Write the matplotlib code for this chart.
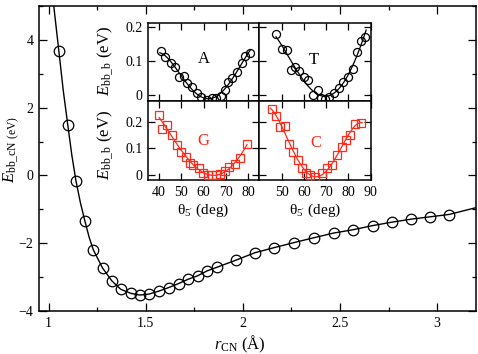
import matplotlib

matplotlib.use("Agg")
import matplotlib.pyplot as plt  # noqa: E402
import numpy as np  # noqa: E402
from matplotlib.ticker import MultipleLocator  # noqa: E402

plt.rcParams["font.family"] = ["Liberation Serif", "DejaVu Serif"]
plt.rcParams["mathtext.fontset"] = "custom"
plt.rcParams["mathtext.rm"] = "Liberation Serif"
plt.rcParams["mathtext.it"] = "Liberation Serif:italic"

RED = "#ff2a1a"

# main curve: backbone C-N energy vs distance
r_cn = [1.052, 1.098, 1.14, 1.186, 1.23, 1.277, 1.325, 1.371, 1.423, 1.469,
        1.517, 1.569, 1.617, 1.669, 1.715, 1.767, 1.814, 1.866, 1.964, 2.062,
        2.161, 2.264, 2.364, 2.467, 2.569, 2.668, 2.766, 2.866, 2.965, 3.063]
e_cn = [3.68, 1.5, -0.15, -1.34, -2.2, -2.73, -3.11, -3.36, -3.48, -3.53,
        -3.5, -3.41, -3.31, -3.19, -3.07, -2.96, -2.82, -2.71, -2.5, -2.28,
        -2.13, -1.98, -1.84, -1.70, -1.60, -1.48, -1.38, -1.29, -1.23, -1.16]
# fitted line
fit_r = [1.026, 1.052, 1.075, 1.098, 1.119, 1.14, 1.163, 1.186, 1.208,
         1.23, 1.277, 1.325, 1.371, 1.423, 1.469, 1.517, 1.569, 1.617,
         1.669, 1.715, 1.767, 1.814, 1.866, 1.964, 2.062, 2.161, 2.264,
         2.364, 2.467, 2.569, 2.668, 2.766, 2.866, 2.965, 3.063, 3.2]
fit_e = [5.0, 3.68, 2.5, 1.5, 0.6, -0.15, -0.8, -1.34, -1.82,
         -2.2, -2.73, -3.11, -3.36, -3.48, -3.53, -3.5, -3.41, -3.31,
         -3.19, -3.07, -2.96, -2.82, -2.71, -2.5, -2.28, -2.13, -1.98,
         -1.84, -1.70, -1.60, -1.48, -1.38, -1.29, -1.22, -1.15, -0.95]

# insets: torsion energy vs theta_5'
a_theta = [40.8, 42.7, 45.2, 47.1, 48.9, 51.1, 52.6, 54.8, 57.1, 59.0, 61.5,
           63.7, 65.5, 67.9, 69.6, 70.8, 72.9, 74.8, 77.1, 78.5, 80.8]
a_e = [0.130, 0.111, 0.093, 0.083, 0.052, 0.056, 0.036, 0.024, 0.007, -0.007,
       -0.015, -0.010, -0.010, -0.003, 0.013, 0.039, 0.049, 0.066, 0.095,
       0.115, 0.123]
t_theta = [47.7, 50.1, 52.3, 54.2, 56.1, 57.9, 59.9, 61.7, 64.0, 66.2, 67.7,
           69.6, 71.4, 73.7, 75.7, 77.7, 79.7, 82.0, 83.8, 85.7, 87.6]
t_e = [0.179, 0.134, 0.132, 0.072, 0.083, 0.069, 0.054, 0.044, 0.0, 0.013,
       -0.010, -0.013, -0.007, 0.005, 0.020, 0.039, 0.054, 0.076, 0.127,
       0.160, 0.171]
g_theta = [40.0, 41.5, 43.7, 46.0, 48.2, 50.0, 51.9, 53.8, 55.3, 57.8, 59.7,
           61.8, 63.7, 65.6, 67.4, 69.6, 71.6, 74.1, 76.3, 79.3]
g_e = [0.225, 0.171, 0.187, 0.150, 0.112, 0.087, 0.069, 0.046, 0.037, 0.025,
       0.009, 0.0, 0.0, 0.0, 0.004, 0.016, 0.029, 0.041, 0.063, 0.116]
c_theta = [45.5, 47.4, 49.5, 51.5, 53.4, 55.2, 57.5, 59.0, 61.0, 62.7, 65.0,
           68.0, 70.3, 72.5, 75.0, 77.0, 78.9, 80.8, 83.0, 85.6]
c_e = [0.246, 0.221, 0.181, 0.184, 0.116, 0.087, 0.056, 0.025, 0.006, 0.0,
       -0.006, 0.006, 0.025, 0.037, 0.075, 0.106, 0.131, 0.150, 0.191, 0.196]


def _ticks(ax, major=6, minor=3):
    ax.tick_params(which="both", direction="in", top=True, right=True,
                   labelsize=10, pad=4, width=0.9)
    ax.tick_params(which="major", length=major)
    ax.tick_params(which="minor", length=minor)
    for sp in ax.spines.values():
        sp.set_linewidth(1.1)


fig = plt.figure(figsize=(4.78, 3.54), dpi=100)
ax = fig.add_axes([0.0816, 0.1215, 0.9142, 0.8615])
ax.plot(fit_r, fit_e, color="black", lw=1.0, zorder=2)
ax.plot(r_cn, e_cn, "o", ms=7.6, mfc="none", mec="black", mew=0.9, zorder=3)
ax.set_xlim(0.95, 3.2)
ax.set_ylim(-4, 5)
ax.xaxis.set_major_locator(MultipleLocator(0.5))
ax.xaxis.set_minor_locator(MultipleLocator(0.25))
ax.yaxis.set_major_locator(MultipleLocator(2))
ax.yaxis.set_minor_locator(MultipleLocator(1))
ax.set_xticks([1, 1.5, 2, 2.5, 3])
ax.set_xticklabels(["1", "1.5", "2", "2.5", "3"])
_ticks(ax)
ax.set_xlabel(r"$r_{\mathrm{CN}}$ (Å)", fontsize=12)
ax.xaxis.set_label_coords(0.46, -0.075)
ax.set_ylabel(r"$E_{\mathrm{bb\_cN\ (eV)}}$", fontsize=12)
ax.yaxis.set_label_coords(-0.039, 0.53)

# inset grid
W = 0.2328
panels = {
    "A": ([0.3096, 0.7147, W, 0.2195], a_theta, a_e, "o", "black"),
    "T": ([0.5425, 0.7147, W, 0.2195], t_theta, t_e, "o", "black"),
    "G": ([0.3096, 0.4915, W, 0.2232], g_theta, g_e, "s", RED),
    "C": ([0.5425, 0.4915, W, 0.2232], c_theta, c_e, "s", RED),
}
line_span = {"A": (40.3, 81.0), "T": (47.5, 88.0),
             "G": (40.0, 79.5), "C": (45.0, 86.2)}
axes = {}
for name, (rect, th, en, mk, col) in panels.items():
    ia = fig.add_axes(rect)
    coef = np.polyfit(th, en, 4)
    xs = np.linspace(*line_span[name], 100)
    ia.plot(xs, np.polyval(coef, xs), color=col, lw=0.9, zorder=2)
    ms = 5.8 if mk == "o" else 5.2
    ia.plot(th, en, mk, ms=ms, mfc="none", mec=col, mew=0.9, zorder=3)
    _ticks(ia, major=5, minor=0)
    axes[name] = ia

for name in ("A", "G"):
    axes[name].set_xlim(35, 85)
    axes[name].set_xticks([40, 50, 60, 70, 80])
for name in ("T", "C"):
    axes[name].set_xlim(40, 90)
    axes[name].set_xticks([50, 60, 70, 80, 90])
    axes[name].tick_params(labelleft=False)
for name in ("A", "T"):
    axes[name].set_ylim(-0.018, 0.211)
    axes[name].set_yticks([0, 0.1, 0.2])
    axes[name].tick_params(labelbottom=False)
for name in ("G", "C"):
    axes[name].set_ylim(-0.019, 0.277)
    axes[name].set_yticks([0, 0.1, 0.2])
    axes[name].set_xlabel(r"θ$_{5'}$ (deg)", fontsize=11, labelpad=2)
for name in ("A", "G"):
    axes[name].set_yticklabels(["0", "0.1", "0.2"])

axes["A"].set_ylabel(r"$E_{\mathrm{bb\_b}}$ (eV)", fontsize=12)
axes["A"].yaxis.set_label_coords(-0.29, 0.51)
axes["G"].set_ylabel(r"$E_{\mathrm{bb\_b}}$ (eV)", fontsize=12)
axes["G"].yaxis.set_label_coords(-0.29, 0.44)

letter_pos = {"A": (0.50, 0.54), "T": (0.49, 0.53),
              "G": (0.50, 0.49), "C": (0.505, 0.47)}
for name, (px, py) in letter_pos.items():
    col = panels[name][4]
    axes[name].text(px, py, name, transform=axes[name].transAxes,
                    color=col, fontsize=12, ha="center", va="center")

fig.savefig("out.png", dpi=100)
plt.close(fig)
